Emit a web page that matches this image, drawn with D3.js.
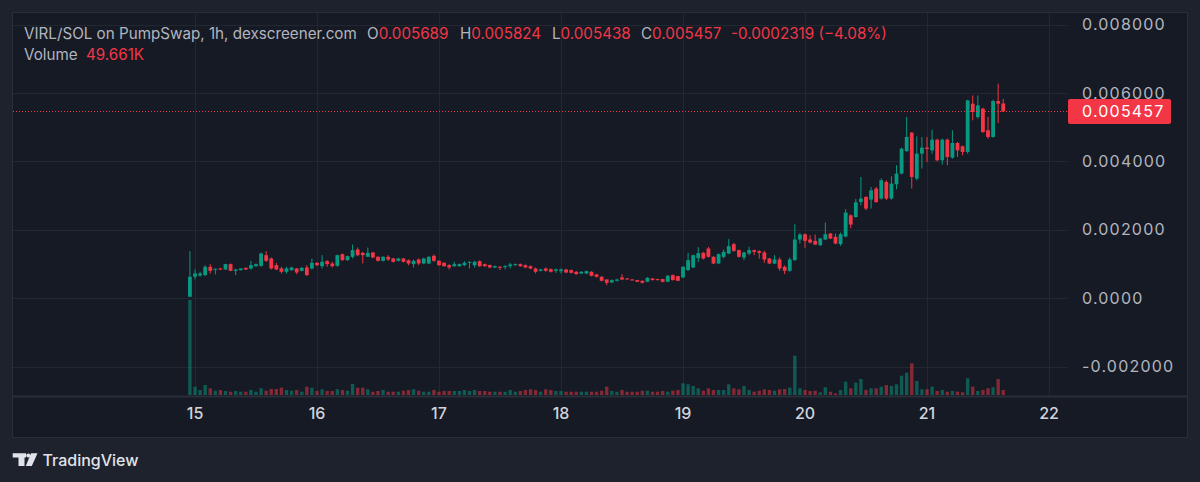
<!DOCTYPE html>
<html>
<head>
<meta charset="utf-8">
<script src="https://cdn.jsdelivr.net/npm/d3@7"></script>
<style>
  html, body { margin: 0; padding: 0; background: #1e222d; }
  svg { display: block; font-family: Inter, "Noto Sans", sans-serif; }
</style>
</head>
<body>
<svg id="chart"></svg>
<script>
// VIRL/SOL hourly candles, first candle = 14th 23:00
var opens = [0.000039,0.000623,0.000662,0.000672,0.000915,0.000827,0.000866,0.000837,0.000993,0.000798,0.000818,0.000885,0.000866,0.000934,0.000944,0.001255,0.001158,0.000963,0.000866,0.000769,
  0.000818,0.000866,0.000798,0.000895,0.000866,0.001031,0.000934,0.001080,0.001012,0.000944,0.001284,0.001109,0.001207,0.001421,0.001323,0.001207,0.001333,0.001207,0.001090,0.001207,
  0.001158,0.001090,0.001158,0.001109,0.000993,0.001129,0.001012,0.001012,0.001236,0.001090,0.001031,0.000963,0.000934,0.000934,0.000963,0.001031,0.000963,0.001080,0.000993,0.000963,
  0.000895,0.000915,0.000915,0.000934,0.000963,0.000993,0.000963,0.000934,0.000866,0.000798,0.000866,0.000846,0.000798,0.000788,0.000837,0.000818,0.000769,0.000720,0.000720,0.000769,
  0.000691,0.000623,0.000545,0.000457,0.000506,0.000603,0.000574,0.000545,0.000526,0.000506,0.000477,0.000574,0.000555,0.000555,0.000477,0.000672,0.000642,0.000603,0.000818,0.000895,
  0.001168,0.001324,0.001450,0.001207,0.001012,0.001207,0.001304,0.001577,0.001402,0.001187,0.001304,0.001402,0.001372,0.001333,0.001158,0.001012,0.001129,0.000915,0.000798,0.001109,
  0.001713,0.001869,0.001713,0.001674,0.001547,0.001713,0.001888,0.001791,0.001580,0.001800,0.002420,0.002370,0.002812,0.002958,0.002881,0.003202,0.002910,0.003397,0.002910,0.003328,
  0.003640,0.004302,0.004838,0.003494,0.004224,0.004400,0.004321,0.004633,0.004030,0.004633,0.004108,0.004536,0.004438,0.004273,0.005684,0.005295,0.005538,0.004906,0.004711,0.005762,
  0.005689];
var highs = [0.001372,0.000837,0.000769,0.000963,0.000993,0.000866,0.000885,0.001003,0.001012,0.000856,0.000876,0.000895,0.001090,0.001012,0.001333,0.001372,0.001187,0.001031,0.000915,0.000915,
  0.000915,0.000876,0.000905,0.000963,0.001158,0.001051,0.001255,0.001109,0.001061,0.001275,0.001304,0.001245,0.001567,0.001479,0.001352,0.001479,0.001352,0.001226,0.001226,0.001255,
  0.001177,0.001177,0.001177,0.001129,0.001129,0.001158,0.001177,0.001226,0.001275,0.001109,0.001051,0.000993,0.001061,0.001012,0.001080,0.001070,0.001090,0.001100,0.001012,0.000983,
  0.000954,0.000934,0.000963,0.001031,0.001012,0.001012,0.000983,0.000954,0.000895,0.000856,0.000895,0.000866,0.000866,0.000866,0.000856,0.000837,0.000788,0.000788,0.000808,0.000788,
  0.000711,0.000642,0.000545,0.000545,0.000565,0.000701,0.000584,0.000555,0.000535,0.000516,0.000613,0.000584,0.000565,0.000565,0.000672,0.000691,0.000652,0.000934,0.001323,0.001275,
  0.001489,0.001353,0.001499,0.001226,0.001304,0.001421,0.001723,0.001616,0.001421,0.001353,0.001499,0.001421,0.001402,0.001382,0.001177,0.001255,0.001187,0.000954,0.001187,0.002160,
  0.001907,0.001888,0.001839,0.001859,0.001762,0.002209,0.001907,0.001888,0.001917,0.002600,0.002450,0.002900,0.003542,0.002978,0.003250,0.003250,0.003500,0.003445,0.003562,0.003883,
  0.004400,0.005294,0.004857,0.004730,0.004710,0.004710,0.004925,0.004660,0.004662,0.004662,0.004906,0.004565,0.004460,0.005800,0.005927,0.005927,0.005567,0.005295,0.005801,0.006268,
  0.005824];
var lows = [0.000039,0.000545,0.000623,0.000642,0.000720,0.000691,0.000818,0.000827,0.000788,0.000672,0.000808,0.000827,0.000837,0.000915,0.000915,0.001061,0.000837,0.000818,0.000720,0.000720,
  0.000798,0.000701,0.000778,0.000652,0.000837,0.000934,0.000866,0.000915,0.000895,0.000915,0.001090,0.001090,0.001158,0.001226,0.001012,0.001207,0.001168,0.001070,0.001070,0.001090,
  0.001041,0.001070,0.001041,0.000963,0.000895,0.000963,0.000993,0.000993,0.001061,0.000944,0.000915,0.000837,0.000915,0.000915,0.000934,0.000866,0.000895,0.000915,0.000915,0.000876,
  0.000876,0.000818,0.000837,0.000866,0.000944,0.000915,0.000876,0.000846,0.000720,0.000778,0.000769,0.000749,0.000739,0.000720,0.000730,0.000720,0.000681,0.000701,0.000701,0.000633,
  0.000603,0.000487,0.000380,0.000438,0.000487,0.000526,0.000535,0.000516,0.000467,0.000428,0.000467,0.000516,0.000516,0.000457,0.000467,0.000516,0.000496,0.000594,0.000798,0.000876,
  0.001051,0.001129,0.001187,0.000993,0.000993,0.001158,0.001285,0.001353,0.001187,0.001109,0.001255,0.001255,0.001158,0.001031,0.000993,0.000993,0.000798,0.000701,0.000769,0.001090,
  0.001596,0.001470,0.001596,0.001547,0.001528,0.001693,0.001723,0.001577,0.001528,0.001780,0.002040,0.002350,0.002715,0.002569,0.002618,0.002780,0.002880,0.002863,0.002880,0.003182,
  0.003620,0.004273,0.003202,0.003445,0.003786,0.003980,0.004224,0.004000,0.003903,0.003884,0.004079,0.004127,0.004176,0.004224,0.005198,0.005246,0.004828,0.004662,0.004692,0.005120,
  0.005438];
var closes = [0.000623,0.000720,0.000720,0.000915,0.000798,0.000856,0.000837,0.000993,0.000798,0.000837,0.000866,0.000837,0.000963,0.000993,0.001304,0.001090,0.000866,0.000837,0.000769,0.000866,
  0.000895,0.000749,0.000885,0.000672,0.001031,0.000963,0.001061,0.000993,0.000934,0.001255,0.001109,0.001226,0.001401,0.001255,0.001255,0.001323,0.001187,0.001090,0.001207,0.001129,
  0.001061,0.001158,0.001061,0.001012,0.001090,0.001012,0.001158,0.001207,0.001090,0.000963,0.000934,0.000895,0.000993,0.000993,0.001031,0.001061,0.001061,0.000934,0.000934,0.000895,
  0.000934,0.000885,0.000934,0.000983,0.000993,0.000934,0.000895,0.000866,0.000769,0.000837,0.000798,0.000769,0.000837,0.000837,0.000749,0.000739,0.000701,0.000769,0.000788,0.000652,
  0.000623,0.000506,0.000448,0.000526,0.000545,0.000545,0.000545,0.000526,0.000477,0.000448,0.000594,0.000526,0.000526,0.000477,0.000652,0.000526,0.000506,0.000915,0.001109,0.001255,
  0.001314,0.001158,0.001207,0.001012,0.001285,0.001353,0.001518,0.001382,0.001207,0.001333,0.001402,0.001353,0.001324,0.001129,0.001012,0.001129,0.000866,0.000798,0.001129,0.001713,
  0.001859,0.001674,0.001625,0.001567,0.001742,0.001869,0.001742,0.001596,0.001870,0.002500,0.002150,0.002800,0.002910,0.002618,0.003153,0.002812,0.003445,0.002910,0.003348,0.003640,
  0.004370,0.004710,0.003542,0.004224,0.004400,0.004360,0.004633,0.004030,0.004633,0.004127,0.004536,0.004321,0.004273,0.005781,0.005441,0.005635,0.004857,0.004711,0.005762,0.005684,
  0.005457];
// volume in thousands
var volumes = [950,83,50,100,67,43,50,40,33,40,33,33,50,33,67,43,60,60,73,50,
  43,50,33,83,73,40,57,40,40,57,50,43,110,73,73,57,33,40,50,33,
  33,33,43,50,57,43,33,33,50,33,40,40,40,40,50,40,50,40,40,33,
  33,33,33,50,33,40,50,57,50,33,57,50,40,40,33,33,33,33,33,33,
  33,43,83,40,33,50,33,33,33,43,43,33,33,40,33,43,50,117,107,90,
  67,43,67,50,50,50,107,67,57,90,50,33,43,57,50,43,57,60,73,393,
  67,50,40,43,27,77,33,17,50,133,67,123,160,50,67,67,83,100,90,107,
  193,223,317,140,57,57,83,40,50,33,40,33,27,167,83,40,50,67,77,160,
  49.661];
var lastChange = '-0.0002319';
var lastChangePct = '\u22124.08%';

var firstCandle = Date.UTC(2025, 0, 14, 23);
var dayTicks = [15, 16, 17, 18, 19, 20, 21, 22];
var priceTicks = [0.008, 0.006, 0.004, 0.002, 0, -0.002];
var priceTickLabels = ['0.008000', '0.006000', '0.004000', '0.002000', '0.0000', '-0.002000'];

var W = 1200, H = 482;
var UP = '#089981', DOWN = '#f23645';
var frame = { l: 12, t: 12, r: 1187, b: 437 };
var paneRight = 1067, paneBottom = 396;

var svg = d3.select('#chart').attr('width', W).attr('height', H);

svg.append('rect').attr('width', W).attr('height', H).attr('fill', '#1e222d');
svg.append('rect')
  .attr('x', frame.l + 0.5).attr('y', frame.t + 0.5)
  .attr('width', frame.r - frame.l).attr('height', frame.b - frame.t)
  .attr('fill', '#161a25').attr('stroke', '#2a2e39');

var x = d3.scaleUtc()
  .domain([Date.UTC(2025, 0, 15), Date.UTC(2025, 0, 22)])
  .range([195, 1049]);
var y = d3.scaleLinear().domain([-0.002, 0.008]).range([366.5, 24.5]);
var yVol = d3.scaleLinear().domain([0, d3.max(volumes)]).range([395, 300]);

var candles = opens.map(function (o, i) {
  return {
    t: new Date(firstCandle + i * 3600e3),
    o: o, h: highs[i], l: lows[i], c: closes[i], v: volumes[i]
  };
});

// grid
var grid = svg.append('g').attr('stroke', '#232732').attr('stroke-width', 1);
grid.selectAll('.hg').data(priceTicks).join('line')
  .attr('x1', frame.l + 1).attr('x2', paneRight)
  .attr('y1', function (d) { return Math.round(y(d)) + 0.5; })
  .attr('y2', function (d) { return Math.round(y(d)) + 0.5; });
grid.selectAll('.vg').data(dayTicks).join('line')
  .attr('y1', frame.t + 1).attr('y2', paneBottom)
  .attr('x1', function (d) { return Math.round(x(Date.UTC(2025, 0, d))) + 0.5; })
  .attr('x2', function (d) { return Math.round(x(Date.UTC(2025, 0, d))) + 0.5; });

// pane / time-axis separator
svg.append('line').attr('x1', frame.l).attr('x2', frame.r)
  .attr('y1', paneBottom + 0.5).attr('y2', paneBottom + 0.5)
  .attr('stroke', '#2a2e39').attr('stroke-width', 2);

// volume
var bw = 3.4;
svg.append('g').selectAll('rect').data(candles).join('rect')
  .attr('x', function (d) { return x(d.t) - bw / 2; })
  .attr('y', function (d) { return yVol(d.v); })
  .attr('width', bw)
  .attr('height', function (d) { return yVol(0) - yVol(d.v); })
  .attr('fill', function (d) { return d.c >= d.o ? UP : DOWN; })
  .attr('fill-opacity', 0.5);

// candles
var cw = 3.8;
var cg = svg.append('g').selectAll('g').data(candles).join('g')
  .attr('fill', function (d) { return d.c >= d.o ? UP : DOWN; })
  .attr('stroke', function (d) { return d.c >= d.o ? UP : DOWN; });
cg.append('line')
  .attr('x1', function (d) { return x(d.t); })
  .attr('x2', function (d) { return x(d.t); })
  .attr('y1', function (d) { return y(d.h); })
  .attr('y2', function (d) { return y(d.l); })
  .attr('stroke-width', 1);
cg.append('rect')
  .attr('stroke', 'none')
  .attr('x', function (d) { return x(d.t) - cw / 2; })
  .attr('y', function (d) { return y(Math.max(d.o, d.c)); })
  .attr('width', cw)
  .attr('height', function (d) { return Math.max(1, Math.abs(y(d.o) - y(d.c))); });

// last price line + label
var last = candles[candles.length - 1];
svg.append('line')
  .attr('x1', frame.l + 1).attr('x2', paneRight)
  .attr('y1', Math.round(y(last.c)) + 0.5).attr('y2', Math.round(y(last.c)) + 0.5)
  .attr('stroke', DOWN).attr('stroke-dasharray', '1,2');

// price axis labels
svg.append('g').selectAll('text').data(priceTicks).join('text')
  .attr('x', 1082).attr('y', function (d) { return y(d); })
  .attr('dy', '0.36em')
  .attr('fill', '#b2b5be').attr('font-size', 16).attr('letter-spacing', 1.2)
  .text(function (d, i) { return priceTickLabels[i]; });

svg.append('rect')
  .attr('x', 1068).attr('y', y(last.c) - 12.5)
  .attr('width', 103).attr('height', 25).attr('rx', 2)
  .attr('fill', DOWN);
svg.append('text')
  .attr('x', 1082).attr('y', y(last.c)).attr('dy', '0.36em')
  .attr('fill', '#ffffff').attr('font-size', 16).attr('letter-spacing', 1.2)
  .text(last.c.toFixed(6));

// time axis labels
svg.append('g').selectAll('text').data(dayTicks).join('text')
  .attr('x', function (d) { return x(Date.UTC(2025, 0, d)); })
  .attr('y', 413).attr('dy', '0.36em')
  .attr('text-anchor', 'middle')
  .attr('fill', '#d1d4dc').attr('font-size', 16).attr('font-weight', 500)
  .text(function (d) { return d; });

// legend header
var grey = '#b2b5be';
var hdr = svg.append('g').attr('font-size', 15.2);
hdr.append('text').attr('x', 24).attr('y', 39).attr('fill', grey)
  .text('VIRL/SOL on PumpSwap, 1h, dexscreener.com');
var ohlc = [
  ['O', last.o.toFixed(6), 367],
  ['H', last.h.toFixed(6), 460],
  ['L', last.l.toFixed(6), 552],
  ['C', last.c.toFixed(6), 641]
];
ohlc.forEach(function (p) {
  var t = hdr.append('text').attr('x', p[2]).attr('y', 39);
  t.append('tspan').attr('fill', grey).text(p[0]);
  t.append('tspan').attr('fill', DOWN).text(p[1]);
});
hdr.append('text').attr('x', 731).attr('y', 39).attr('fill', DOWN)
  .text(lastChange + ' (' + lastChangePct + ')');
hdr.append('text').attr('x', 24).attr('y', 60).attr('fill', grey).text('Volume');
hdr.append('text').attr('x', 86).attr('y', 60).attr('fill', DOWN)
  .text(last.v.toFixed(3) + 'K');

// TradingView mark
var logo = svg.append('g').attr('fill', '#e1e3ea');
logo.append('path').attr('d', 'M12.7,453.3H26V457.5H24.5V466H18.5V457.5H12.7Z');
logo.append('circle').attr('cx', 28.3).attr('cy', 455.5).attr('r', 2.1);
logo.append('path').attr('d', 'M31,453.3H37.5L31.8,466H25.8Z');
logo.append('text').attr('x', 42.5).attr('y', 466)
  .attr('font-size', 16).attr('font-weight', 500)
  .text('TradingView');
</script>
</body>
</html>
